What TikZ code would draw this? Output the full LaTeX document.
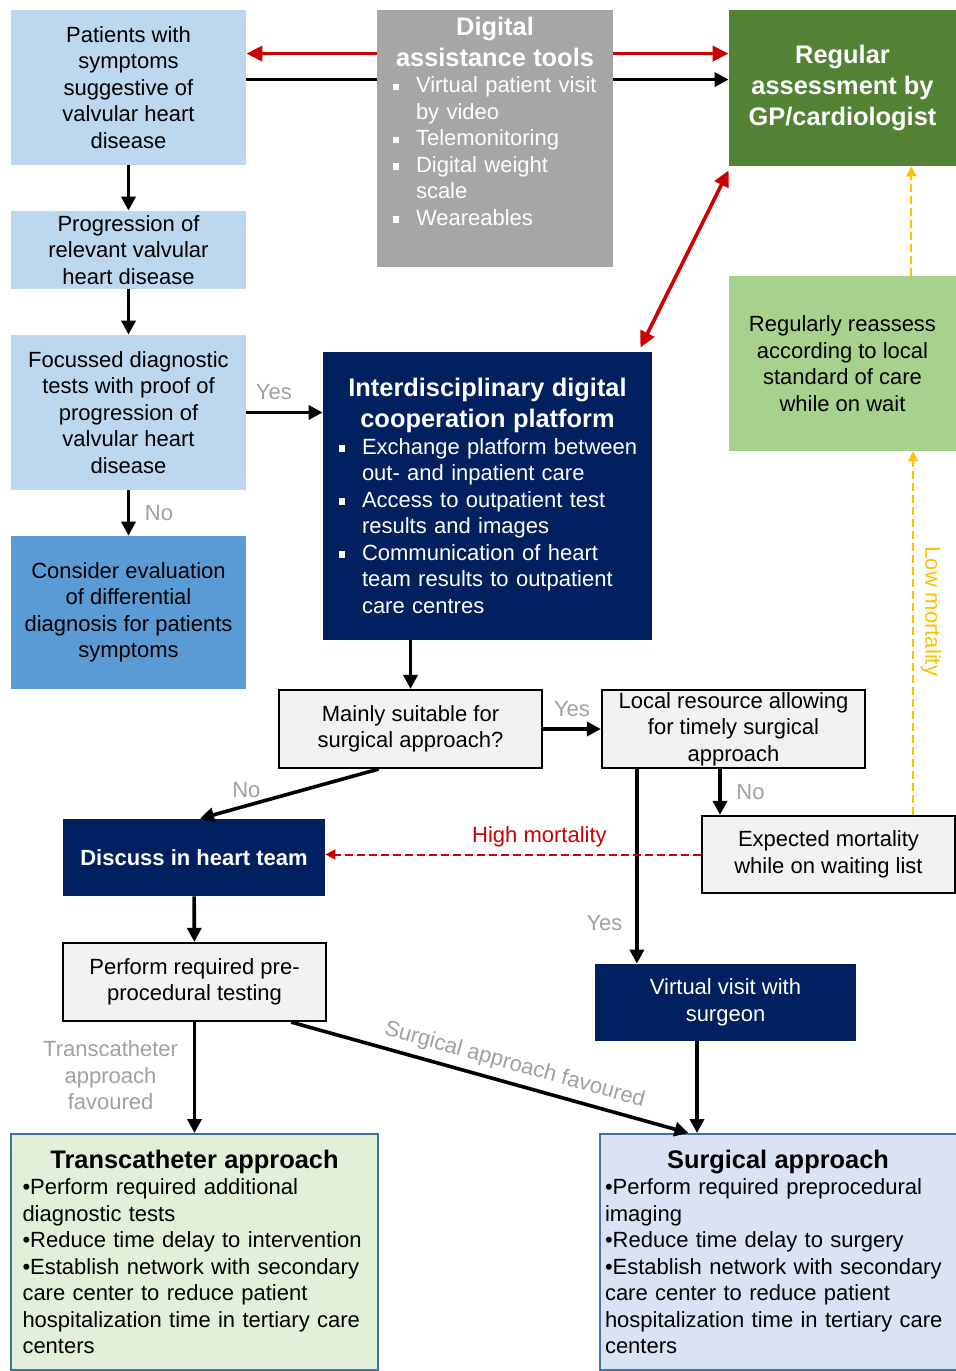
\documentclass[tikz,border=0pt]{standalone}
\usepackage{fontspec}
\setmainfont{Liberation Sans}
\usepackage{enumitem}
\usetikzlibrary{arrows.meta,positioning,calc,backgrounds}
\definecolor{boxlight}{RGB}{189,215,238}
\definecolor{boxmid}{RGB}{91,155,213}
\definecolor{boxgray}{RGB}{166,166,166}
\definecolor{boxnavy}{RGB}{0,32,96}
\definecolor{boxgreen}{RGB}{84,130,53}
\definecolor{boxlgreen}{RGB}{169,209,142}
\definecolor{boxpale}{RGB}{242,242,242}
\definecolor{boxtrans}{RGB}{226,240,217}
\definecolor{boxsurg}{RGB}{218,227,243}
\definecolor{edgeblue}{RGB}{65,113,156}
\definecolor{flowred}{RGB}{204,0,0}
\definecolor{flowyellow}{RGB}{255,192,0}
\definecolor{labgray}{RGB}{160,160,160}
\newcommand{\txtfont}{\fontsize{11}{13.25}\selectfont}
\newcommand{\headfont}{\fontsize{12.7}{15.5}\selectfont\bfseries}
\newlist{sqlist}{itemize}{1}
\setlist[sqlist]{label=\rule[1.3pt]{3.2pt}{3.2pt}, labelwidth=3.2pt, labelsep=8.3pt,
  leftmargin=!, topsep=0pt, partopsep=0pt, itemsep=0pt, parsep=0pt}
\tikzset{
  boxsize/.style 2 args={minimum width=#1*0.5pt, minimum height=#2*0.5pt},
  base/.style={inner sep=0pt, font=\txtfont, align=center},
  pbox/.style={base, fill=boxlight},
  dbox/.style={base, fill=boxmid},
  gbox/.style={base, fill=boxgray, text=white, align=left, text width=110pt},
  nbox/.style={base, fill=boxnavy, text=white},
  rbox/.style={base, fill=boxgreen, text=white, font=\headfont},
  lbox/.style={base, fill=boxlgreen},
  qbox/.style={base, fill=boxpale, draw=black, line width=1.1pt},
  obox/.style={base, draw=edgeblue, line width=1pt, align=left},
  flow/.style={-{Triangle[length=7pt,width=7pt]}, line width=1.8pt},
  flowr/.style={-{Triangle[length=8pt,width=7.5pt]}, line width=1.8pt, draw=flowred},
  flowrr/.style={{Triangle[length=8pt,width=7.5pt]}-{Triangle[length=8pt,width=7.5pt]}, line width=1.8pt, draw=flowred},
  flowd/.style={-{Triangle[length=5pt,width=5pt]}, line width=1pt, draw=flowred, dash pattern=on 4pt off 2pt},
  flowy/.style={-{Triangle[length=5pt,width=5pt]}, line width=1pt, draw=flowyellow, dash pattern=on 4pt off 2pt},
  lab/.style={font=\txtfont, text=labgray},
}

\begin{document}
\begin{tikzpicture}[x=0.5pt, y=-0.5pt]
  \useasboundingbox (0,0) rectangle (956,1371);
  % left column
  \node[pbox, boxsize={235}{155}] (p1) at (128.5,87.5) {Patients with\\symptoms\\suggestive of\\valvular heart\\disease};
  \node[pbox, boxsize={235}{78}] (p2) at (128.5,250) {Progression of\\relevant valvular\\heart disease};
  \node[pbox, boxsize={235}{155}] (p3) at (128.5,412.5) {Focussed diagnostic\\tests with proof of\\progression of\\valvular heart\\disease};
  \node[dbox, boxsize={235}{153}] (p4) at (128.5,612.5) {Consider evaluation\\of differential\\diagnosis for patients\\symptoms};
  % top row
  \node[gbox, boxsize={236}{257}] (dat) at (495,138.5) {{\centering\headfont Digital\\assistance tools\par}
    \begin{sqlist}[labelindent=4pt]
      \item Virtual patient visit\\by video
      \item Telemonitoring
      \item Digital weight\\scale
      \item Weareables
    \end{sqlist}\par\vspace{4pt}\hbox{}};
  \node[rbox, boxsize={227}{156}] (reg) at (842.5,88) {Regular\\assessment by\\GP/cardiologist};
  \node[lbox, boxsize={227}{175}] (rea) at (842.5,363.5) {Regularly reassess\\according to local\\standard of care\\while on wait};
  \node[nbox, align=left, text width=160pt, boxsize={329}{288}] (plat) at (487.5,496) {{\centering\headfont Interdisciplinary digital\\cooperation platform\par}
    \begin{sqlist}[labelindent=5.75pt]
      \item Exchange platform between\\out- and inpatient care
      \item Access to outpatient test\\results and images
      \item Communication of heart\\team results to outpatient\\care centres
    \end{sqlist}};
  % decisions
  \node[qbox, boxsize={263}{78}] (ms) at (410.5,729) {Mainly suitable for\\surgical approach?};
  \node[qbox, boxsize={263}{78}] (lr) at (733.5,729) {Local resource allowing\\for timely surgical\\approach};
  \node[qbox, boxsize={253}{77}] (em) at (828.5,854.5) {Expected mortality\\while on waiting list};
  \node[nbox, font=\txtfont\bfseries, boxsize={262}{77}] (dh) at (194,857.5) {Discuss in heart team};
  \node[qbox, boxsize={263}{78}] (pr) at (194.5,982) {Perform required pre-\\procedural testing};
  \node[nbox, boxsize={261}{77}] (vv) at (725.5,1002.5) {Virtual visit with\\surgeon};
  % outcomes
  \node[obox, fill=boxtrans, text width=172pt, boxsize={367}{236}] (ta) at (194.5,1252) {{\centering\headfont Transcatheter approach\par}
    \raggedright\textbullet Perform required additional\\diagnostic tests\\\textbullet Reduce time delay to intervention\\
    \textbullet Establish network with secondary\\care center to reduce patient\\hospitalization time in tertiary care\\centers};
  \node[obox, fill=boxsurg, text width=173pt, boxsize={357}{236}] (sa) at (778,1252) {{\centering\headfont Surgical approach\par}
    \raggedright\textbullet Perform required preprocedural\\imaging\\\textbullet Reduce time delay to surgery\\
    \textbullet Establish network with secondary\\care center to reduce patient\\hospitalization time in tertiary care\\centers};

  % connectors
  \begin{scope}[on background layer]
    \draw[line width=1.8pt] ([yshift=-35pt]p1.north east) -- ([yshift=-35pt]dat.north west);
    \draw[flow] ([yshift=-35pt]dat.north east) -- ([yshift=-35pt]reg.north west);
  \end{scope}
  \draw[flowr] ([yshift=-22pt]dat.north west) -- ([yshift=-22pt]p1.north east);
  \draw[flowr] ([yshift=-22pt]dat.north east) -- ([yshift=-22pt]reg.north west);
  \draw[flowrr] ([yshift=-2pt]reg.south west) -- ([xshift=-6pt,yshift=2pt]plat.north east);
  \draw[flow] (p1) -- (p2);
  \draw[flow] (p2) -- (p3);
  \draw[flow] (p3) -- node[lab, right, xshift=4pt]{No} (p4);
  \draw[flow] (p3.east) -- node[lab, above, pos=0.36, yshift=2pt]{Yes} (p3.east -| plat.west);
  \draw[flow] (ms.north |- plat.south) -- (ms.north);
  \draw[flow] (ms) -- node[lab, above, yshift=2pt]{Yes} (lr);
  \draw[flow] ([xshift=-16pt]ms.south) -- node[lab, above, pos=0.74]{No} ([xshift=3pt]dh.north);
  \coordinate (lrno) at ([xshift=-6.75pt]lr.south);
  \draw[flow] (lrno) -- node[lab, right, xshift=4pt]{No} (lrno |- em.north);
  \coordinate (lryes) at ([xshift=18pt]lr.south west);
  \draw[flow] (lryes) -- node[lab, left, pos=0.79, xshift=-3pt]{Yes} (lryes |- vv.north);
  \draw[flowd] (em.west) -- node[above, pos=0.43, font=\txtfont, text=flowred]{High mortality} (em.west -| dh.east);
  \coordinate (emlow) at ([xshift=-21.5pt]em.north east);
  \draw[flowy] (emlow) -- node[pos=0.56, rotate=-90, anchor=south, font=\txtfont, text=flowyellow]{Low mortality} (emlow |- rea.south);
  \coordinate (reaup) at ([xshift=-22.5pt]rea.north east);
  \draw[flowy] (reaup) -- (reaup |- reg.south);
  \draw[flow] (dh) -- (pr);
  \draw[flow] (pr.south) -- node[lab, left, pos=0.48, xshift=-4pt, align=center]{Transcatheter\\approach\\favoured} (pr.south |- ta.north);
  \draw[flow] ([xshift=-18pt]pr.south east) -- node[lab, sloped, above, pos=0.55]{Surgical approach favoured} ([xshift=45pt]sa.north west);
  \coordinate (vvdown) at ([xshift=-14.25pt]vv.south);
  \draw[flow] (vvdown) -- (vvdown |- sa.north);
\end{tikzpicture}
\end{document}
